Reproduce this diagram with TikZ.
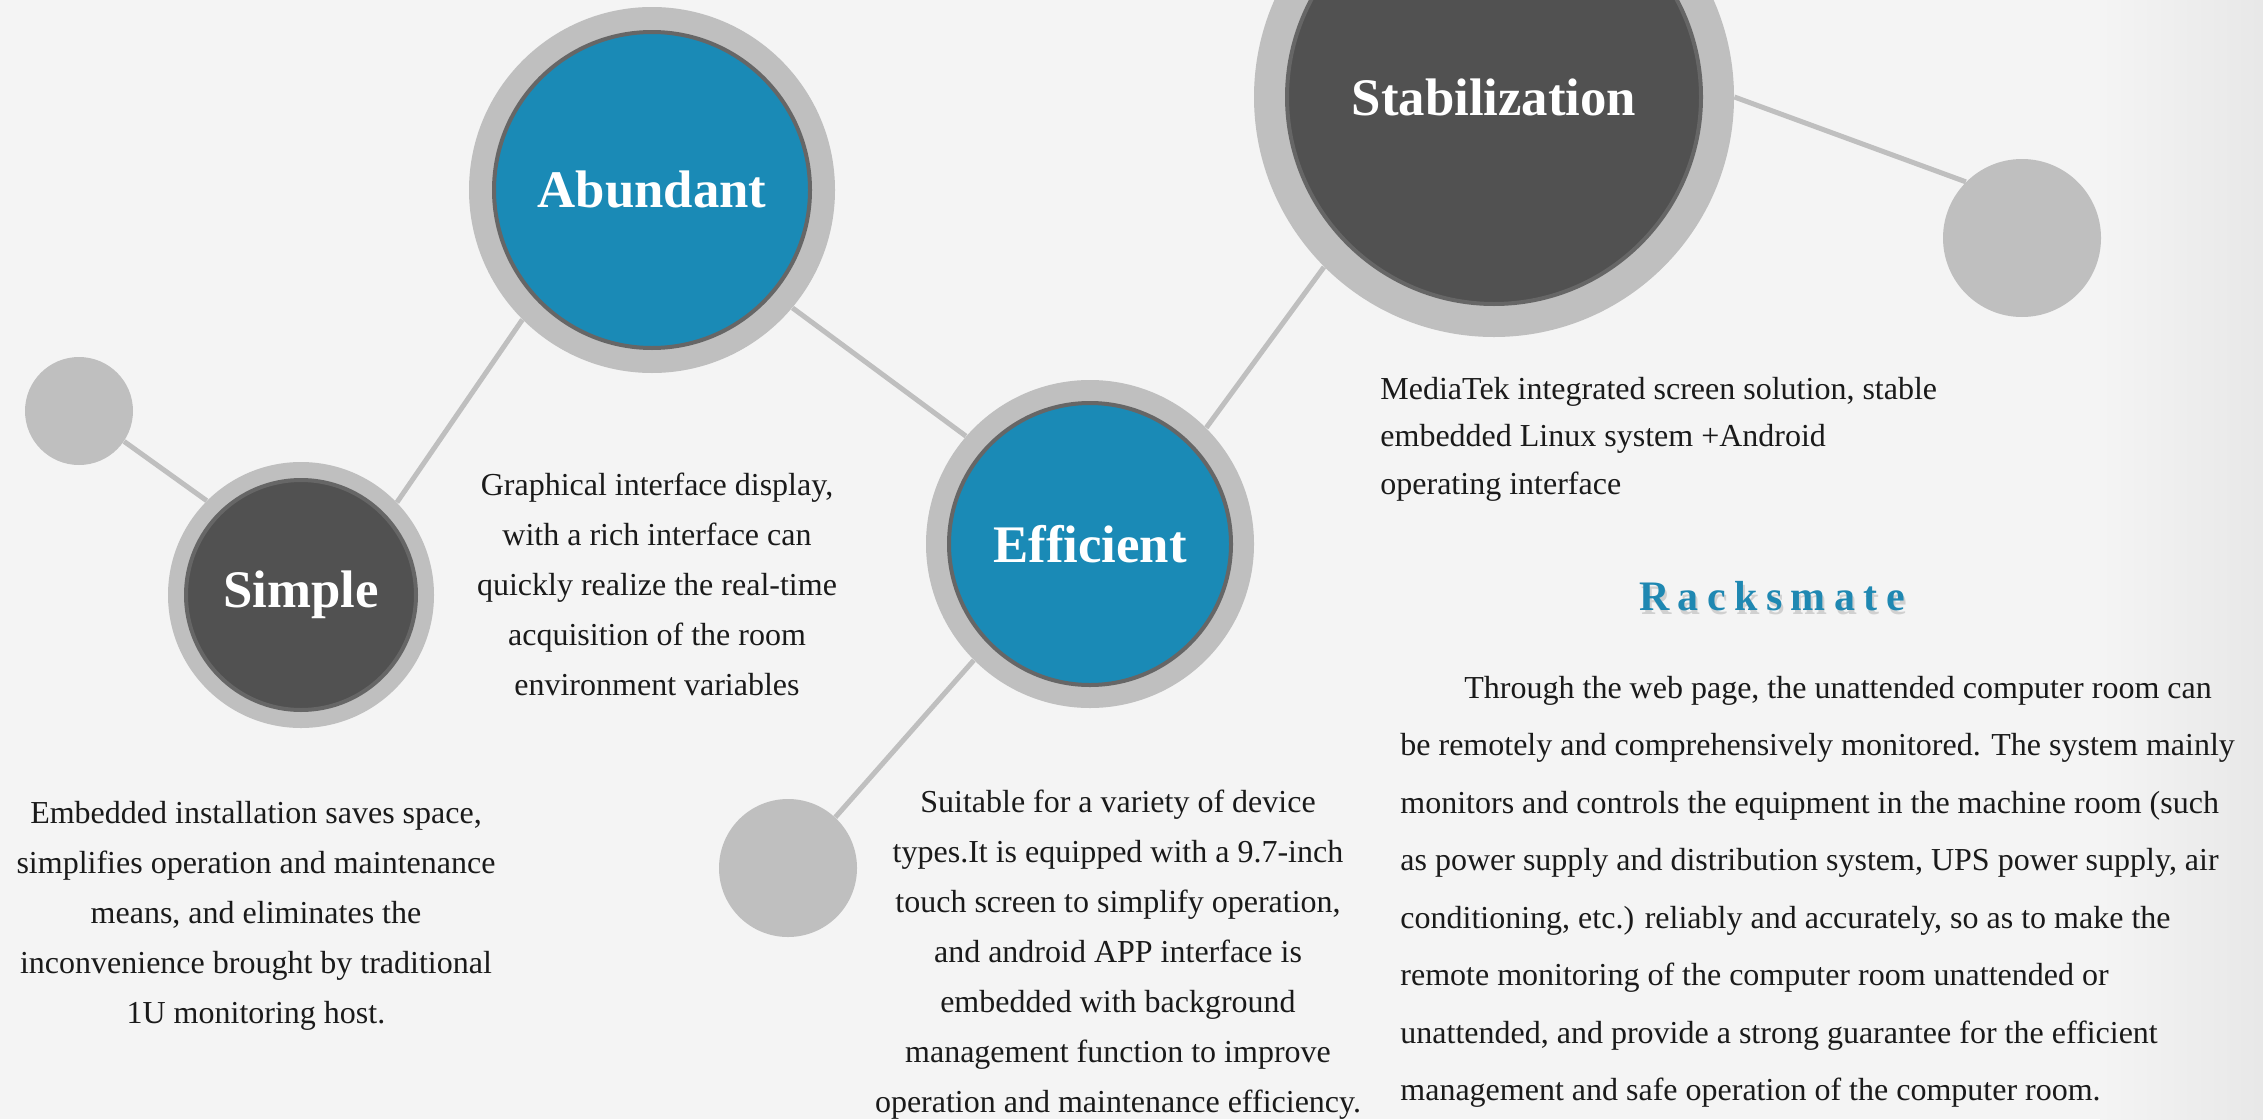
\documentclass[tikz,border=0pt]{standalone}
\usepackage{fontspec}
\setmainfont{Liberation Serif}
\newfontfamily\rackfont[LetterSpace=20]{Liberation Serif}
\usepackage{tikz}
\usetikzlibrary{positioning}
\definecolor{bgfill}{HTML}{F4F4F4}
\definecolor{ringgray}{HTML}{BFBFBF}
\definecolor{darkcore}{HTML}{515151}
\definecolor{bluecore}{HTML}{1A8AB6}
\definecolor{coreedge}{HTML}{666666}
\definecolor{textdark}{HTML}{1A1A1A}
\definecolor{rackblue}{HTML}{1F88B2}
\tikzset{
	ring/.style={circle, fill=ringgray, inner sep=0pt, minimum size=#1},
	core/.style={circle, draw=coreedge, line width=2pt, inner sep=0pt, minimum size=#1,
		text=white, font=\fontsize{26.4}{30}\selectfont\bfseries},
	dot/.style={circle, fill=ringgray, inner sep=0pt, minimum size=#1},
	link/.style={draw=ringgray, line width=2.5pt},
	note/.style={text=textdark, align=center, inner sep=0pt, font=\fontsize{16}{25}\selectfont},
}

\begin{document}
\begin{tikzpicture}[x=0.5pt, y=-0.5pt]% Features chain
	% background
	\clip (0,0) rectangle (2263,1119);
	\fill[bgfill] (0,0) rectangle (2263,1119);
	\shade[left color=bgfill, right color=bgfill!95!black] (2100,0) rectangle (2263,1119);

	% outer rings and small dots
	\node[dot=54pt] (lsmall) at (79,411) {};
	\node[ring=133pt] (simple) at (301,595) {};
	\node[ring=183pt] (abundant) at (652,190) {};
	\node[ring=164pt] (efficient) at (1090,544) {};
	\node[dot=69pt] (bsmall) at (788,868) {};
	\node[ring=240pt] (stab) at (1494,97) {};
	\node[dot=79pt] (rsmall) at (2022,238) {};

	% links
	\draw[link] (lsmall.-34) -- (simple.135);
	\draw[link] (simple.44) -- (abundant.225);
	\draw[link] (abundant.-40) -- (efficient.139);
	\draw[link] (efficient.225) -- (bsmall.47);
	\draw[link] (efficient.45) -- (stab.225);
	\draw[link] (stab.0) -- (rsmall.135);

	% inner discs
	\node[core=115pt, fill=darkcore] (simplecore) at (simple) {Simple};
	\node[core=158pt, fill=bluecore] (abundantcore) at (abundant) {Abundant};
	\node[core=141pt, fill=bluecore] (efficientcore) at (efficient) {Efficient};
	\node[core=207pt, fill=darkcore] (stabcore) at (stab) {Stabilization};

	% texts
	\node[note] (simpletext) at (256,916) {Embedded installation saves space,\\simplifies operation and maintenance\\means, and eliminates the\\inconvenience brought by traditional\\1U monitoring host.};
	\node[note] (abundanttext) at (657,584) {Graphical interface display,\\with a rich interface can\\quickly realize the real-time\\acquisition of the room\\environment variables};
	\node[note] (efficienttext) at (1118,955) {Suitable for a variety of device\\types.It is equipped with a 9.7-inch\\touch screen to simplify operation,\\and android APP interface is\\embedded with background\\management function to improve\\operation and maintenance efficiency.};
	\node[note, align=left, anchor=west, font=\fontsize{16}{23.75}\selectfont] (stabtext) at (1380,439) {MediaTek integrated screen solution, stable\\embedded Linux system +Android\\operating interface};

	% title and summary
	\node[text=gray, opacity=0.3, font=\fontsize{21}{24}\selectfont\rackfont\bfseries] (rackshadow) at (1774,600) {Racksmate};
	\node[text=rackblue, font=\fontsize{21}{24}\selectfont\rackfont\bfseries] (racksmate) at (1772,596) {Racksmate};
	\node[note, align=left, anchor=west, font=\fontsize{16}{28.75}\selectfont] (summary) at (1400,892) {\hspace*{32pt}Through the web page, the unattended computer room can\\be remotely and comprehensively monitored. The system mainly\\monitors and controls the equipment in the machine room (such\\as power supply and distribution system, UPS power supply, air\\conditioning, etc.) reliably and accurately, so as to make the\\remote monitoring of the computer room unattended or\\unattended, and provide a strong guarantee for the efficient\\management and safe operation of the computer room.};
\end{tikzpicture}
\end{document}
